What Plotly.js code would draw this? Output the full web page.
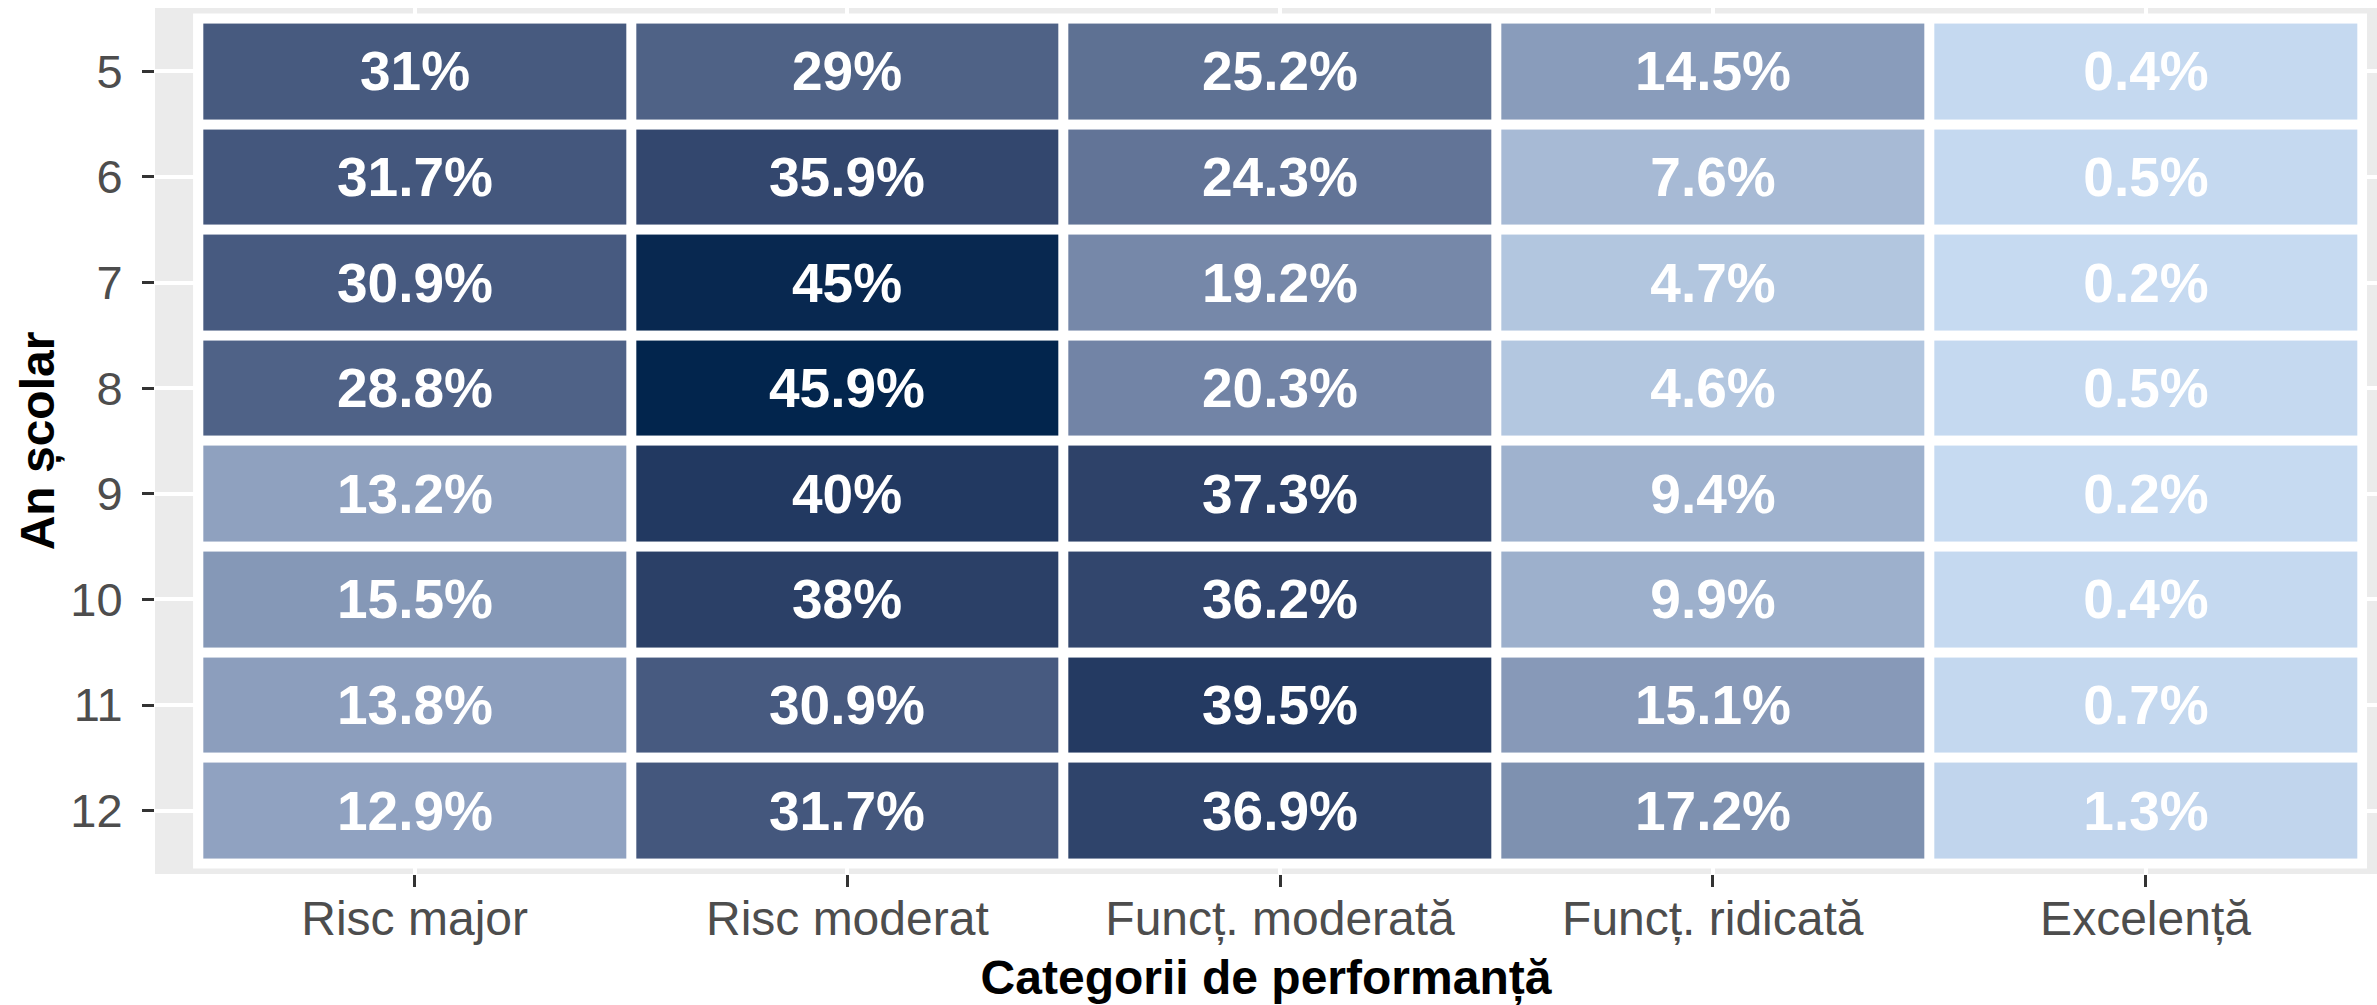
<!DOCTYPE html>
<html>
<head>
<meta charset="utf-8">
<script src="https://cdn.plot.ly/plotly-3.0.1.min.js"></script>
<style>
  html, body { margin: 0; padding: 0; background: #fff; }
  #chart { width: 2377px; height: 1005px; }
</style>
</head>
<body>
<div id="chart"></div>
<script>
// categorii de performanta (axa x) si ani scolari (axa y)
var categories = ['Risc major', 'Risc moderat', 'Funcț. moderată', 'Funcț. ridicată', 'Excelență'];
var years = ['5', '6', '7', '8', '9', '10', '11', '12'];

// procente pe fiecare an, in ordinea categoriilor
var an5  = [31.0, 29.0, 25.2, 14.5, 0.4];
var an6  = [31.7, 35.9, 24.3, 7.6, 0.5];
var an7  = [30.9, 45.0, 19.2, 4.7, 0.2];
var an8  = [28.8, 45.9, 20.3, 4.6, 0.5];
var an9  = [13.2, 40.0, 37.3, 9.4, 0.2];
var an10 = [15.5, 38.0, 36.2, 9.9, 0.4];
var an11 = [13.8, 30.9, 39.5, 15.1, 0.7];
var an12 = [12.9, 31.7, 36.9, 17.2, 1.3];

var z = [an5, an6, an7, an8, an9, an10, an11, an12];
var labels = z.map(function(row) {
  return row.map(function(v) { return v + '%'; });
});

// gradient low -> high interpolat in CIELAB, ca in ggplot
function toLab(hex) {
  var c = [1, 3, 5].map(function(i) { return parseInt(hex.substr(i, 2), 16) / 255; });
  var l = c.map(function(v) { return v <= 0.04045 ? v / 12.92 : Math.pow((v + 0.055) / 1.055, 2.4); });
  var X = (0.4124 * l[0] + 0.3576 * l[1] + 0.1805 * l[2]) / 0.95047;
  var Y = 0.2126 * l[0] + 0.7152 * l[1] + 0.0722 * l[2];
  var Z = (0.0193 * l[0] + 0.1192 * l[1] + 0.9505 * l[2]) / 1.08883;
  var f = function(t) { return t > 0.008856 ? Math.cbrt(t) : 7.787 * t + 16 / 116; };
  return [116 * f(Y) - 16, 500 * (f(X) - f(Y)), 200 * (f(Y) - f(Z))];
}
function fromLab(lab) {
  var fy = (lab[0] + 16) / 116, fx = fy + lab[1] / 500, fz = fy - lab[2] / 200;
  var inv = function(t) { return t * t * t > 0.008856 ? t * t * t : (t - 16 / 116) / 7.787; };
  var X = inv(fx) * 0.95047, Y = inv(fy), Z = inv(fz) * 1.08883;
  var r = 3.2406 * X - 1.5372 * Y - 0.4986 * Z;
  var g = -0.9689 * X + 1.8758 * Y + 0.0415 * Z;
  var b = 0.0557 * X - 0.2040 * Y + 1.0570 * Z;
  var out = [r, g, b].map(function(v) {
    v = v <= 0.0031308 ? 12.92 * v : 1.055 * Math.pow(v, 1 / 2.4) - 0.055;
    return Math.round(Math.min(1, Math.max(0, v)) * 255);
  });
  return 'rgb(' + out.join(',') + ')';
}
var lowLab = toLab('#C6DAF1');
var highLab = toLab('#02254D');
var scale = [];
for (var i = 0; i <= 20; i++) {
  var t = i / 20;
  scale.push([t, fromLab([0, 1, 2].map(function(k) { return lowLab[k] + (highLab[k] - lowLab[k]) * t; }))]);
}

var font = 'Liberation Sans, Arial, sans-serif';

var trace = {
  type: 'heatmap',
  x: categories,
  y: years,
  z: z,
  text: labels,
  texttemplate: '%{text}',
  textfont: { family: font, size: 55, color: '#ffffff', weight: 'bold' },
  colorscale: scale,
  zmin: 0.2,
  zmax: 45.9,
  showscale: false,
  xgap: 10,
  ygap: 10,
  hoverinfo: 'x+y+text'
};

var layout = {
  width: 2377,
  height: 1005,
  margin: { l: 155, r: 0, t: 8, b: 131 },
  paper_bgcolor: '#ffffff',
  plot_bgcolor: '#EBEBEB',
  font: { family: font, color: '#4D4D4D' },
  xaxis: {
    type: 'category',
    range: [-0.6, 4.535],
    showgrid: true,
    gridcolor: '#ffffff',
    gridwidth: 4,
    zeroline: false,
    ticks: 'outside',
    ticklen: 12,
    tickwidth: 3,
    tickcolor: '#333333',
    ticklabelstandoff: -10,
    tickfont: { family: font, size: 48, color: '#4D4D4D' },
    title: { text: 'Categorii de performanță', font: { family: font, size: 48, color: '#000000', weight: 'bold' }, standoff: 28 },
    automargin: false,
    fixedrange: true
  },
  yaxis: {
    type: 'category',
    autorange: false,
    range: [7.6, -0.6],
    showgrid: true,
    gridcolor: '#ffffff',
    gridwidth: 4,
    zeroline: false,
    ticks: 'outside',
    ticklen: 12,
    tickwidth: 3,
    tickcolor: '#333333',
    ticklabelstandoff: 10,
    tickfont: { family: font, size: 47, color: '#4D4D4D' },
    title: { text: 'An școlar', font: { family: font, size: 48, color: '#000000', weight: 'bold' }, standoff: 0 },
    automargin: false,
    fixedrange: true
  },
  shapes: [{
    type: 'rect',
    xref: 'x',
    yref: 'y',
    x0: -0.512,
    x1: 4.512,
    y0: -0.548,
    y1: 7.548,
    layer: 'below',
    line: { width: 0 },
    fillcolor: '#ffffff'
  }]
};

Plotly.newPlot('chart', [trace], layout, { displayModeBar: false, responsive: false });
</script>
</body>
</html>
